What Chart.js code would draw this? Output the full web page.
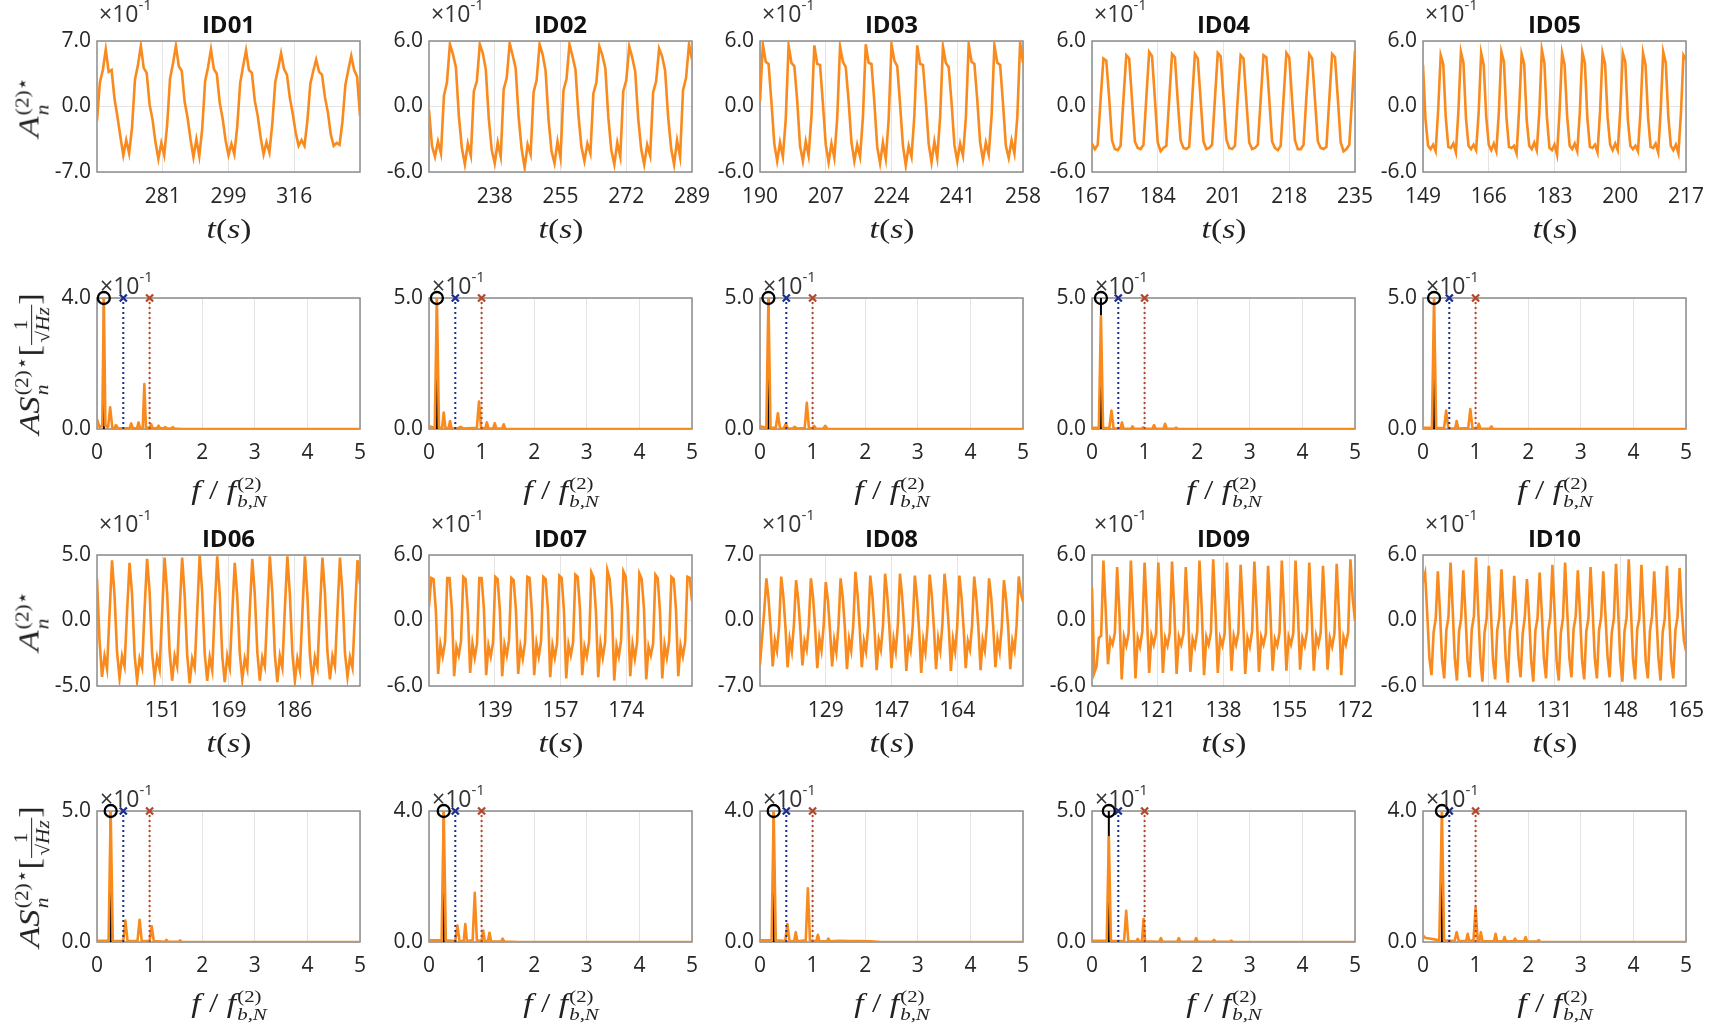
<!DOCTYPE html>
<html>
<head>
<meta charset="utf-8">
<script src="https://cdn.jsdelivr.net/npm/chart.js@4.4.1/dist/chart.umd.min.js"></script>
<style>
  body { margin: 0; background: #fff; width: 1711px; height: 1025px; position: relative; overflow: hidden; }
  .title { position: absolute; font: bold 24px 'Open Sans', sans-serif; color: #111; transform: translate(-50%, -50%); white-space: nowrap; }
  .exp { position: absolute; font: 23px 'Open Sans', sans-serif; color: #333; line-height: 1; white-space: nowrap; }
  .exp sup { font-size: 15px; vertical-align: top; position: relative; top: -5px; }
  .math { position: absolute; font-family: 'Liberation Serif', 'DejaVu Serif', serif; font-size: 28px; color: #222; white-space: nowrap; line-height: 1; transform: translate(-50%, -50%) scaleX(1.2); }
  .math i { font-style: italic; }
  .rot { font-size: 30px; transform: translate(-50%, -50%) rotate(-90deg) scaleX(1.15); }
  .ss { display: inline-block; vertical-align: middle; font-size: 0.62em; line-height: 1.05; text-align: left; margin-left: 1px; }
  .ss span { display: block; }
  .frac { display: inline-block; vertical-align: middle; text-align: center; font-size: 0.62em; line-height: 1.15; }
  .frac span { display: block; }
  .frac .den { border-top: 1px solid #222; padding: 0 2px; }
</style>
</head>
<body>
<script>
// panel names, time windows (s) and tick positions
const ids = ['ID01', 'ID02', 'ID03', 'ID04', 'ID05', 'ID06', 'ID07', 'ID08', 'ID09', 'ID10'];
const tStart = [264, 221, 190, 167, 149, 133.5, 121.5, 111.5, 104, 97];
const tEnd = [333, 289, 258, 235, 217, 203.5, 191.5, 181.5, 172, 165];
const tTicks = [
  [281.25, 298.5, 315.75],
  [238, 255, 272, 289],
  [190, 207, 224, 241, 258],
  [167, 184, 201, 218, 235],
  [149, 166, 183, 200, 217],
  [151, 168.5, 186],
  [139, 156.5, 174],
  [129, 146.5, 164],
  [104, 121, 138, 155, 172],
  [114, 131, 148, 165],
];
const aLim = [7, 6, 6, 6, 6, 5, 6, 7, 6, 6];      // A_n limits (x1e-1)
const sLim = [4, 5, 5, 5, 5, 5, 4, 4, 5, 4];      // spectrum top (x1e-1)
const peakFreq = [0.13, 0.15, 0.16, 0.17, 0.21, 0.26, 0.28, 0.26, 0.32, 0.36];
const markFreq = [0.5, 1.0];
const fTicks = [0, 1, 2, 3, 4, 5];

// time signals, values in units of 1e-1, evenly spaced over [tStart, tEnd]
const a01 = [
  -1.5, 2.6, 3.9, 6.1, 3.7, 3.9, 0.8, -1.1, -3.2, -5.2, -3.6, -5.0,
  -2.2, 2.9, 4.4, 6.5, 4.1, 3.6, 0.2, -1.4, -3.8, -5.6, -3.9, -5.2,
  -2.0, 3.0, 4.6, 6.5, 4.3, 3.8, 0.5, -1.2, -3.5, -5.4, -3.5, -5.3,
  -2.4, 2.7, 4.2, 6.1, 4.0, 3.5, 0.4, -1.3, -3.6, -5.2, -4.0, -5.1,
  -2.1, 2.5, 4.3, 6.0, 3.9, 3.6, 0.6, -1.0, -3.3, -5.1, -3.8, -4.9,
  -1.8, 2.6, 4.1, 5.7, 4.0, 3.4, 0.9, -0.8, -2.8, -4.2, -3.6, -4.2,
  -1.5, 2.4, 3.8, 5.0, 3.7, 3.4, 1.0, -0.6, -3.0, -4.2, -3.9, -4.1,
  -1.6, 2.3, 3.9, 5.4, 3.9, 3.2, -1.0,
];
const a02 = [
  -0.3, -3.6, -4.6, -3.2, -4.3, 1.0, 2.2,
  5.7, 4.8, 3.6, -0.9, -3.8, -5.3, -3.4, -4.5, 1.4, 2.3,
  5.7, 4.9, 3.4, -1.1, -4.0, -5.2, -3.3, -4.6, 1.6, 2.6,
  5.8, 4.7, 3.5, -1.0, -3.9, -5.6, -3.5, -4.4, 1.3, 2.4,
  5.7, 4.8, 3.3, -1.2, -4.1, -5.2, -3.2, -4.7, 1.5, 2.5,
  5.7, 4.6, 3.4, -0.8, -3.7, -5.0, -3.4, -4.3, 1.2, 2.2,
  5.5, 4.7, 3.5, -1.0, -4.0, -5.3, -3.3, -4.6, 1.4, 2.4,
  5.5, 4.5, 3.2, -1.1, -3.9, -5.3, -3.5, -4.5, 1.3, 2.3,
  5.3, 4.6, 3.3, -0.9, -3.8, -5.3, -3.1, -4.6, 1.5, 2.6,
  5.7, 4.3,
];
const a03 = [
  0.5,
  5.7, 4.1, 3.9, 0.4, -3.4, -5.0, -3.3, -4.6, -1.2,
  5.6, 4.0, 3.7, 0.6, -3.6, -5.0, -3.2, -4.5, -0.9,
  5.6, 3.9, 3.8, 0.3, -3.5, -5.1, -3.4, -4.7, -1.1,
  5.5, 4.1, 3.6, 0.5, -3.3, -5.0, -3.5, -4.6, -1.0,
  5.7, 4.0, 3.9, 0.4, -3.7, -5.2, -3.3, -4.8, -1.2,
  5.7, 4.2, 3.7, 0.2, -3.6, -5.4, -3.6, -4.6, -0.8,
  5.6, 3.9, 3.8, 0.5, -3.4, -5.1, -3.2, -4.7, -1.0,
  5.5, 4.0, 3.6, 0.4, -3.5, -5.0, -3.4, -4.5, -1.1,
  5.7, 4.1, 3.9, 0.6, -3.3, -4.9, -3.3, -4.4, -0.9,
  5.6, 4.0, 3.8, 0.3, -3.6, -4.7, -3.1, -4.3, -1.0,
  5.9, 4.0,
];
const a04 = [
  -3.4, -3.9, -3.5, 0.6,
  4.4, 4.2, 0.8, -3.1, -3.9, -4.0, -3.6, 0.7,
  4.7, 4.4, 0.6, -3.2, -3.8, -3.9, -3.5, 0.8,
  5.0, 4.6, 0.7, -3.3, -4.1, -3.8, -3.6, 0.6,
  4.8, 4.5, 0.5, -3.1, -3.8, -3.9, -3.7, 0.5,
  4.8, 4.4, 0.6, -3.2, -3.9, -3.8, -3.5, 0.7,
  4.9, 4.6, 0.8, -3.0, -3.8, -3.9, -3.6, 0.8,
  4.7, 4.4, 0.5, -3.3, -3.9, -3.8, -3.5, 0.6,
  4.7, 4.5, 0.7, -3.2, -3.8, -4.0, -3.6, 0.7,
  4.9, 4.5, 0.6, -3.1, -3.9, -3.9, -3.5, 0.9,
  4.8, 4.4, 0.6, -3.2, -3.8, -3.9, -3.7, 0.6,
  4.8, 4.5, 0.7, -3.3, -4.1, -3.9, -3.5, 0.8,
  5.1,
];
const a05 = [
  3.8, -1.2, -3.6, -3.9, -3.5, -4.1, -0.3,
  4.7, 3.9, -1.0, -3.7, -3.8, -3.4, -4.2, -0.4,
  5.0, 4.0, -1.1, -3.6, -3.9, -3.5, -4.0, -0.6,
  4.9, 3.8, -0.9, -3.5, -4.0, -3.4, -4.1, -0.5,
  5.0, 4.1, -1.0, -3.7, -3.8, -3.6, -4.3, -0.3,
  4.8, 3.9, -1.2, -3.6, -3.9, -3.3, -4.0, -0.5,
  5.2, 4.0, -1.0, -3.8, -4.0, -3.5, -4.4, -0.4,
  4.9, 3.8, -0.9, -3.6, -3.9, -3.4, -4.1, -0.6,
  5.0, 4.0, -1.1, -3.7, -3.8, -3.5, -4.2, -0.5,
  4.9, 3.9, -1.0, -3.5, -4.0, -3.4, -4.0, -0.4,
  4.9, 4.1, -1.2, -3.6, -3.9, -3.6, -4.1, -0.5,
  4.9, 3.8, -1.0, -3.7, -3.8, -3.4, -4.2, -0.3,
  5.0, 4.0, -0.9, -3.6, -4.0, -3.5, -4.3, -0.6,
  4.7, 4.3,
];
const a06 = [
  3.2, -1.5, -4.3, -2.7, -3.7, 0.5,
  4.6, 1.9, -2.4, -4.4, -2.7, -3.5, 0.7,
  4.4, 2.0, -2.6, -4.6, -2.9, -3.6, 0.9,
  4.7, 2.2, -2.5, -4.4, -2.8, -3.7, 0.6,
  4.8, 2.1, -2.4, -4.6, -2.7, -3.5, 0.8,
  4.8, 1.9, -2.6, -4.8, -2.9, -3.6, 0.7,
  5.0, 2.1, -2.5, -4.6, -2.8, -3.8, 0.9,
  4.9, 2.0, -2.7, -4.7, -2.7, -3.6, 0.6,
  4.4, 1.8, -2.5, -4.5, -2.9, -3.7, 0.8,
  4.7, 2.0, -2.4, -4.6, -2.8, -3.5, 0.7,
  4.9, 2.1, -2.6, -4.7, -2.7, -3.6, 0.9,
  4.9, 2.0, -2.5, -4.6, -2.9, -3.8, 0.6,
  4.9, 1.9, -2.6, -4.6, -2.8, -3.6, 0.8,
  4.8, 2.1, -2.4, -4.5, -2.7, -3.5, 0.7,
  4.8, 2.0, -2.5, -4.3, -2.8, -3.6, 0.6,
  4.6, 2.8,
];
const a07 = [
  1.3,
  3.9, 3.8, 0.9, -4.9, -2.2, -3.3, -2.0,
  3.9, 3.9, 1.0, -5.1, -2.4, -3.2, -1.9,
  4.0, 3.8, 0.8, -4.8, -2.1, -3.4, -2.1,
  3.9, 3.9, 1.1, -5.0, -2.3, -3.3, -2.0,
  4.0, 3.8, 0.9, -5.1, -2.2, -3.2, -1.8,
  3.9, 3.7, 1.0, -4.9, -2.4, -3.5, -2.0,
  4.0, 3.9, 0.7, -5.0, -2.1, -3.3, -1.9,
  4.0, 3.8, 1.0, -5.2, -2.3, -3.4, -2.1,
  4.1, 3.9, 0.9, -5.3, -2.2, -3.2, -2.0,
  4.2, 4.0, 1.1, -5.0, -2.4, -3.3, -1.9,
  4.4, 3.9, 0.8, -5.2, -2.1, -3.4, -2.0,
  4.6, 3.8, 1.0, -5.5, -2.3, -3.3, -1.8,
  4.5, 4.0, 0.9, -5.1, -2.2, -3.5, -2.0,
  4.3, 3.8, 1.1, -5.4, -2.4, -3.2, -2.1,
  4.2, 3.9, 0.8, -5.3, -2.2, -3.4, -1.9,
  4.0, 3.8, 1.0, -5.1, -2.3, -3.3, -2.0,
  4.0, 3.9, 1.8,
];
const a08 = [
  -4.7, -1.8, 1.0,
  4.5, 2.4, -0.8, -4.9, -2.1, -3.2, -0.6,
  4.7, 2.6, -0.7, -5.0, -2.0, -3.3, -0.4,
  4.3, 2.3, -0.9, -4.8, -2.2, -3.1, -0.5,
  4.5, 2.5, -0.8, -5.1, -1.9, -3.2, -0.6,
  4.1, 2.2, -1.0, -4.9, -2.1, -3.4, -0.5,
  4.5, 2.5, -0.7, -5.2, -2.0, -3.2, -0.4,
  5.2, 2.8, -0.8, -5.0, -2.2, -3.3, -0.6,
  4.8, 2.6, -0.9, -5.3, -2.1, -3.1, -0.5,
  5.0, 2.7, -0.7, -5.1, -2.0, -3.3, -0.4,
  5.0, 2.6, -0.8, -5.4, -2.2, -3.2, -0.6,
  4.8, 2.5, -0.9, -5.6, -2.1, -3.4, -0.5,
  4.9, 2.7, -0.8, -5.2, -1.9, -3.2, -0.4,
  5.0, 2.6, -0.7, -5.4, -2.0, -3.3, -0.6,
  4.8, 2.5, -0.8, -5.1, -2.2, -3.1, -0.5,
  4.7, 2.4, -0.9, -5.3, -2.1, -3.2, -0.4,
  4.5, 2.5, -0.8, -5.0, -2.0, -3.3, -0.6,
  4.3, 2.3, -0.7, -5.2, -2.2, -3.2, -0.5,
  4.7, 2.9, 2.0,
];
const a09 = [
  3.0, -4.8, -4.2, -1.6, -1.4,
  5.5, 0.9, -4.0, -1.7, -2.2, -1.1,
  4.9, 0.6, -5.4, -1.5, -2.3, -1.2,
  5.5, 0.8, -5.3, -1.6, -2.4, -1.0,
  5.3, 0.7, -4.8, -1.4, -2.2, -1.2,
  5.3, 0.9, -4.8, -1.6, -2.3, -1.1,
  5.4, 0.8, -4.9, -1.5, -2.2, -1.2,
  4.9, 0.7, -4.7, -1.7, -2.4, -1.0,
  5.5, 0.9, -5.0, -1.5, -2.2, -1.1,
  5.6, 0.8, -4.8, -1.6, -2.3, -1.2,
  5.3, 0.6, -4.6, -1.4, -2.2, -1.1,
  5.1, 0.8, -4.9, -1.6, -2.4, -1.0,
  5.4, 0.9, -4.7, -1.5, -2.2, -1.2,
  5.0, 0.7, -4.6, -1.7, -2.3, -1.1,
  5.5, 0.8, -4.6, -1.5, -2.2, -1.2,
  5.5, 0.9, -4.5, -1.6, -2.3, -1.0,
  5.3, 0.7, -4.6, -1.4, -2.2, -1.1,
  5.0, 0.8, -4.5, -1.6, -2.4, -1.2,
  5.2, 0.6, -5.0, -1.5, -2.2, -1.1,
  5.6, 2.0, 0.0,
];
const a10 = [
  3.5,
  4.3, 0.6, -3.4, -5.0, -1.1, 0.2,
  4.5, 0.8, -3.6, -5.3, -0.9, 0.3,
  5.3, 1.0, -3.5, -5.5, -1.0, 0.2,
  4.6, 0.7, -3.7, -5.2, -0.8, 0.4,
  5.8, 1.1, -3.4, -5.6, -1.1, 0.2,
  5.0, 0.9, -3.6, -5.4, -0.9, 0.3,
  4.7, 0.8, -3.5, -5.7, -1.0, 0.1,
  4.1, 0.6, -3.3, -5.2, -1.2, 0.3,
  3.8, 0.5, -3.6, -5.6, -0.9, 0.2,
  4.4, 0.8, -3.5, -5.3, -1.0, 0.3,
  5.1, 1.0, -3.7, -5.5, -1.1, 0.2,
  5.3, 0.9, -3.4, -5.2, -0.8, 0.4,
  4.6, 0.7, -3.6, -5.4, -1.0, 0.2,
  4.9, 0.9, -3.5, -5.3, -0.9, 0.3,
  4.5, 0.6, -3.3, -5.2, -1.1, 0.2,
  5.2, 1.0, -3.6, -5.6, -1.0, 0.3,
  5.6, 1.1, -3.5, -5.4, -0.8, 0.2,
  5.1, 0.8, -3.7, -5.3, -1.0, 0.4,
  4.5, 0.7, -3.4, -5.5, -1.1, 0.2,
  5.0, 0.9, -3.6, -5.3, -0.9, 0.3,
  4.8, 1.0, -1.8, -2.8,
];

// amplitude spectra as [f/f_bN, amplitude x1e-1]
const s01 = [[0, 0.3], [0.05, 0.05], [0.10, 0.1], [0.13, 4.0], [0.16, 0.1], [0.21, 0.05], [0.25, 0.66], [0.29, 0.05], [0.33, 0.02], [0.36, 0.12], [0.40, 0.02], [0.48, 0.02], [0.62, 0.02], [0.65, 0.17], [0.68, 0.02], [0.76, 0.02], [0.79, 0.2], [0.82, 0.02], [0.87, 0.05], [0.9, 1.37], [0.93, 0.05], [1.0, 0.03], [1.03, 0.15], [1.06, 0.02], [1.14, 0.02], [1.17, 0.1], [1.2, 0.02], [1.27, 0.02], [1.3, 0.06], [1.33, 0.01], [1.41, 0.01], [1.44, 0.06], [1.47, 0.01], [1.6, 0], [5, 0]];
const s02 = [[0, 0.1], [0.11, 0.05], [0.15, 5.0], [0.19, 0.05], [0.25, 0.05], [0.28, 0.63], [0.31, 0.05], [0.37, 0.02], [0.40, 0.3], [0.43, 0.02], [0.55, 0.02], [0.6, 0.08], [0.65, 0.02], [0.91, 0.05], [0.95, 1.05], [0.99, 0.05], [1.07, 0.02], [1.1, 0.25], [1.13, 0.02], [1.22, 0.02], [1.25, 0.22], [1.28, 0.02], [1.39, 0.02], [1.42, 0.18], [1.45, 0.01], [1.6, 0], [5, 0]];
const s03 = [[0, 0.1], [0.12, 0.05], [0.16, 5.0], [0.2, 0.05], [0.3, 0.05], [0.34, 0.6], [0.38, 0.03], [0.45, 0.02], [0.49, 0.2], [0.53, 0.02], [0.62, 0.02], [0.66, 0.08], [0.7, 0.02], [0.85, 0.04], [0.89, 1.0], [0.93, 0.04], [1.0, 0.02], [1.03, 0.12], [1.06, 0.01], [1.2, 0.01], [1.24, 0.12], [1.28, 0.01], [1.5, 0], [5, 0]];
const s04 = [[0, 0.05], [0.13, 0.05], [0.17, 4.3], [0.21, 0.05], [0.33, 0.03], [0.37, 0.7], [0.41, 0.03], [0.54, 0.02], [0.57, 0.25], [0.6, 0.02], [0.74, 0.01], [0.77, 0.1], [0.8, 0.01], [0.94, 0.01], [0.97, 0.06], [1.0, 0.01], [1.15, 0.01], [1.18, 0.15], [1.21, 0.01], [1.36, 0.01], [1.39, 0.2], [1.42, 0.01], [1.57, 0.01], [1.6, 0.05], [1.63, 0], [5, 0]];
const s05 = [[0, 0.05], [0.17, 0.05], [0.21, 5.0], [0.25, 0.05], [0.4, 0.03], [0.44, 0.7], [0.48, 0.03], [0.61, 0.02], [0.64, 0.3], [0.67, 0.02], [0.86, 0.04], [0.9, 0.76], [0.94, 0.04], [1.03, 0.02], [1.06, 0.2], [1.09, 0.02], [1.27, 0.01], [1.3, 0.1], [1.33, 0.01], [1.5, 0], [5, 0]];
const s06 = [[0, 0.05], [0.22, 0.05], [0.26, 5.0], [0.3, 0.05], [0.5, 0.04], [0.54, 0.82], [0.58, 0.04], [0.77, 0.04], [0.81, 0.85], [0.85, 0.04], [1.0, 0.04], [1.04, 0.6], [1.08, 0.04], [1.29, 0.01], [1.32, 0.08], [1.35, 0.01], [1.55, 0.01], [1.58, 0.06], [1.61, 0], [5, 0]];
const s07 = [[0, 0.05], [0.24, 0.05], [0.28, 4.0], [0.32, 0.05], [0.5, 0.03], [0.54, 0.5], [0.58, 0.03], [0.66, 0.03], [0.69, 0.55], [0.72, 0.03], [0.83, 0.05], [0.87, 1.5], [0.91, 0.05], [1.0, 0.03], [1.03, 0.35], [1.06, 0.03], [1.12, 0.03], [1.15, 0.28], [1.18, 0.02], [1.37, 0.01], [1.4, 0.1], [1.43, 0.01], [1.7, 0], [5, 0]];
const s08 = [[0, 0.05], [0.22, 0.05], [0.26, 4.0], [0.3, 0.05], [0.48, 0.03], [0.52, 0.55], [0.56, 0.03], [0.65, 0.02], [0.68, 0.3], [0.71, 0.02], [0.87, 0.05], [0.91, 1.64], [0.95, 0.05], [1.07, 0.02], [1.1, 0.22], [1.13, 0.02], [1.27, 0.02], [1.3, 0.1], [1.33, 0.02], [1.5, 0.04], [1.7, 0.03], [1.9, 0.03], [2.1, 0.02], [2.3, 0], [5, 0]];
const s09 = [[0, 0.05], [0.28, 0.05], [0.32, 4.0], [0.36, 0.05], [0.61, 0.04], [0.65, 1.19], [0.69, 0.04], [0.84, 0.02], [0.87, 0.12], [0.9, 0.02], [0.95, 0.03], [0.98, 0.88], [1.01, 0.03], [1.28, 0.01], [1.31, 0.15], [1.34, 0.01], [1.62, 0.01], [1.65, 0.15], [1.68, 0.01], [1.95, 0.01], [1.98, 0.15], [2.01, 0.01], [2.29, 0.01], [2.32, 0.08], [2.35, 0.01], [2.62, 0.01], [2.65, 0.05], [2.68, 0], [5, 0]];
const s10 = [[0, 0.2], [0.05, 0.12], [0.15, 0.1], [0.31, 0.05], [0.36, 4.0], [0.4, 0.05], [0.6, 0.03], [0.64, 0.3], [0.68, 0.03], [0.82, 0.03], [0.85, 0.25], [0.88, 0.03], [0.96, 0.05], [1.0, 1.05], [1.04, 0.05], [1.07, 0.03], [1.1, 0.3], [1.13, 0.03], [1.35, 0.02], [1.38, 0.25], [1.41, 0.02], [1.52, 0.02], [1.55, 0.15], [1.58, 0.02], [1.72, 0.02], [1.75, 0.1], [1.78, 0.02], [1.92, 0.02], [1.95, 0.15], [1.98, 0.02], [2.17, 0.01], [2.2, 0.06], [2.23, 0], [5, 0]];

const series = [a01, a02, a03, a04, a05, a06, a07, a08, a09, a10];
const spectra = [s01, s02, s03, s04, s05, s06, s07, s08, s09, s10];

const ORANGE = '#f98a1d';
const BLUE = '#1b2f8c';
const BROWN = '#b4472b';
const GRID = '#e4e4e4';
const FRAME = '#8c8c8c';
const TICK_FONT = { family: 'Open Sans', size: 21 };
const TICK_COLOR = '#262626';

// plot boxes in page pixels
const colLeft = [97, 429, 760, 1092, 1423];
const rowTop = [41, 298, 555, 811];
const PW = 263, PH = 131;
const PL = 80, PT = 22, PR = 32, PB = 48;

const framePlugin = {
  id: 'frame',
  beforeDatasetsDraw(chart) {
    const { ctx, chartArea: a } = chart;
    ctx.save();
    ctx.strokeStyle = FRAME;
    ctx.lineWidth = 1.5;
    ctx.strokeRect(a.left, a.top, a.right - a.left, a.bottom - a.top);
    ctx.restore();
  },
};

function makeCanvas(left, top) {
  const c = document.createElement('canvas');
  c.width = PW + PL + PR;
  c.height = PH + PT + PB;
  c.style.cssText = `position:absolute;left:${left - PL}px;top:${top - PT}px;width:${c.width}px;height:${c.height}px`;
  document.body.appendChild(c);
  return c;
}

function axis(min, max, ticks, fmt, padding, fit) {
  return {
    type: 'linear',
    min,
    max,
    afterBuildTicks: (s) => { s.ticks = ticks.map((v) => ({ value: v })); },
    afterFit: fit,
    grid: { color: GRID, lineWidth: 1, drawTicks: false },
    border: { display: false },
    ticks: { padding, font: TICK_FONT, color: TICK_COLOR, callback: fmt, autoSkip: false, maxRotation: 0 },
  };
}

function options(x, y) {
  return {
    responsive: false,
    animation: false,
    layout: { padding: { left: 0, top: PT, right: PR, bottom: 0 } },
    plugins: { legend: { display: false }, tooltip: { enabled: false } },
    scales: { x, y },
  };
}

const fitX = (s) => { s.height = PB; };
const fitY = (s) => { s.width = PL; };

function label(cls, html, x, y) {
  const d = document.createElement('div');
  d.className = cls;
  d.innerHTML = html;
  d.style.left = x + 'px';
  d.style.top = y + 'px';
  document.body.appendChild(d);
}

const EXP = '×10<sup>-1</sup>';
const T_LABEL = '<i>t</i>(<i>s</i>)';
const F_LABEL = '<i>f</i> / <i>f</i><span class="ss"><span>(2)</span><span><i>b,N</i></span></span>';
const A_LABEL = '<i>A</i><span class="ss"><span>(2)⋆</span><span><i>n</i></span></span>';
const AS_LABEL = '<i>AS</i><span class="ss"><span>(2)⋆</span><span><i>n</i></span></span>[<span class="frac"><span>1</span><span class="den">√<i>Hz</i></span></span>]';

function drawTime(i) {
  const vals = series[i];
  const dt = (tEnd[i] - tStart[i]) / (vals.length - 1);
  const pts = vals.map((v, k) => ({ x: tStart[i] + k * dt, y: v }));
  const col = i % 5;
  const row = i < 5 ? 0 : 2;
  const left = colLeft[col], top = rowTop[row];
  new Chart(makeCanvas(left, top), {
    type: 'line',
    data: { datasets: [{ data: pts, borderColor: ORANGE, borderWidth: 2.6, pointRadius: 0, tension: 0 }] },
    options: options(
      axis(tStart[i], tEnd[i], tTicks[i], (v) => String(Math.round(v)), 12, fitX),
      axis(-aLim[i], aLim[i], [-aLim[i], 0, aLim[i]], (v) => v.toFixed(1), 6, fitY)
    ),
    plugins: [framePlugin],
  });
  label('exp', EXP, left + 2, top - (row === 0 ? 39 : 43));
  label('title', ids[i], left + PW / 2, top - 18);
  label('math', T_LABEL, left + PW / 2, top + PH + 57);
  if (col === 0) label('math rot', A_LABEL, 32, top + PH / 2);
}

function vline(f, top, color, dash, order) {
  return { data: [{ x: f, y: 0 }, { x: f, y: top }], borderColor: color, borderWidth: 2, borderDash: dash, pointRadius: 0, order };
}

function marker(f, top, style, color, r) {
  return {
    data: [{ x: f, y: top }], showLine: false, clip: false, order: 1,
    pointStyle: style, pointRadius: r, pointBorderColor: color, pointBackgroundColor: 'rgba(0,0,0,0)', pointBorderWidth: 2.3,
  };
}

function drawSpec(i) {
  const top = sLim[i], fp = peakFreq[i];
  const col = i % 5;
  const row = i < 5 ? 1 : 3;
  const left = colLeft[col], y0 = rowTop[row];
  new Chart(makeCanvas(left, y0), {
    type: 'line',
    data: {
      datasets: [
        vline(fp, top, '#000', [], 5),
        { data: spectra[i].map(([f, a]) => ({ x: f, y: a })), borderColor: ORANGE, borderWidth: 2.6, borderJoinStyle: 'round', pointRadius: 0, tension: 0, order: 4 },
        vline(markFreq[0], top, BLUE, [2, 3], 3),
        vline(markFreq[1], top, BROWN, [2, 3], 3),
        marker(fp, top, 'circle', '#000', 6),
        marker(markFreq[0], top, 'crossRot', BLUE, 5),
        marker(markFreq[1], top, 'crossRot', BROWN, 5),
      ],
    },
    options: options(
      axis(0, 5, fTicks, (v) => String(v), 11, fitX),
      axis(0, top, [0, top], (v) => v.toFixed(1), 6, fitY)
    ),
    plugins: [framePlugin],
  });
  label('exp', EXP, left + 3, y0 - 24);
  label('math', F_LABEL, left + PW / 2, y0 + PH + 64);
  if (col === 0) label('math rot', AS_LABEL, 32, y0 + PH / 2);
}

for (let i = 0; i < 10; i++) {
  drawTime(i);
  drawSpec(i);
}
</script>
</body>
</html>
